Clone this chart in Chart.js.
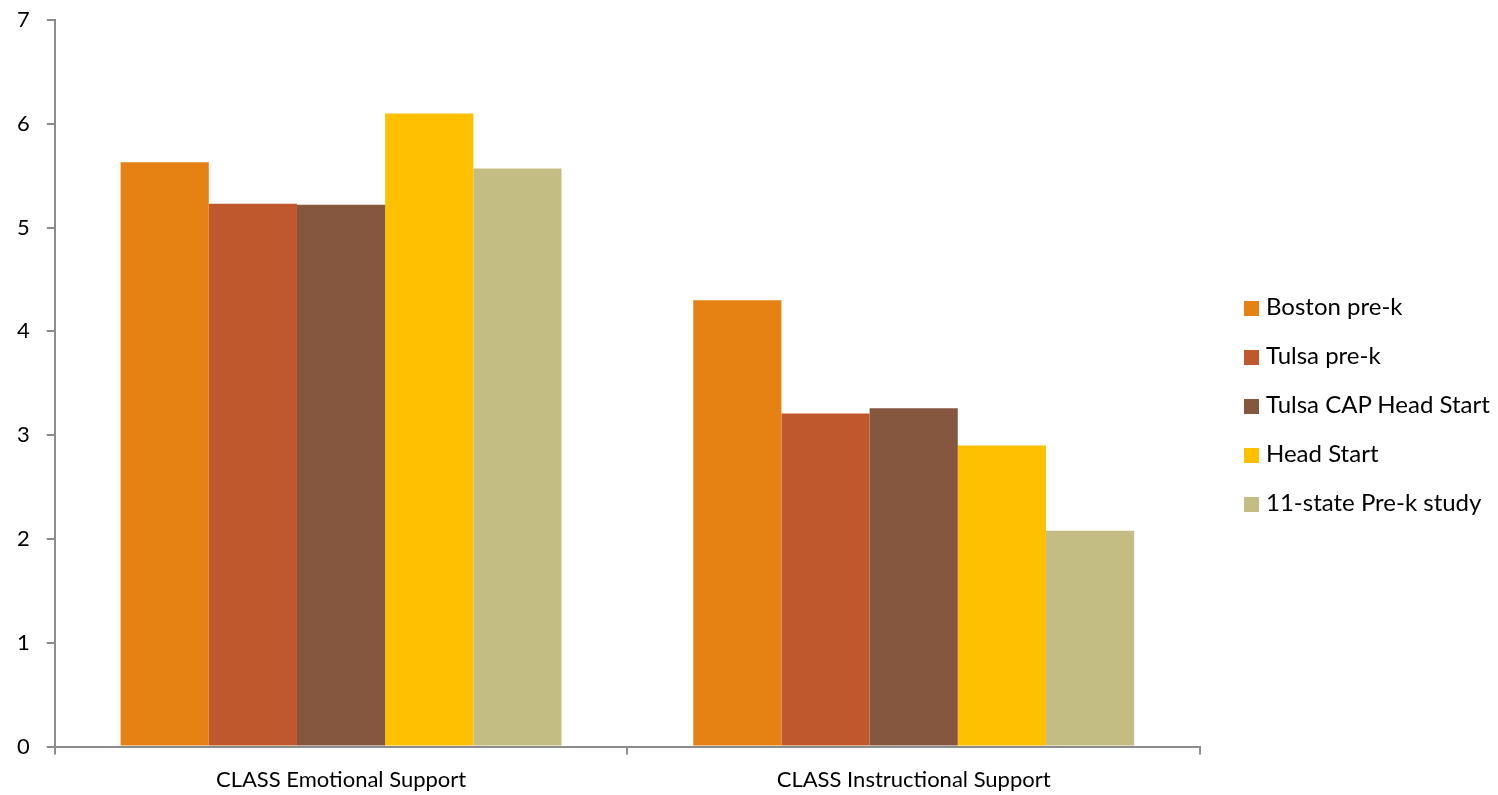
<!DOCTYPE html>
<html>
<head>
<meta charset="utf-8">
<script src="https://cdn.jsdelivr.net/npm/chart.js@4"></script>
<style>
  html, body { margin: 0; padding: 0; background: #fff; }
  #wrap { position: relative; width: 1498px; height: 795px; }
  #legend { position: absolute; left: 1244px; top: 281px; margin: 0; padding: 0; list-style: none;
            font-family: Lato, 'Open Sans', sans-serif; font-size: 24px; color: #000; }
  #legend li { height: 49px; line-height: 49px; white-space: nowrap; }
  #legend span { display: inline-block; width: 15px; height: 15px; margin-right: 7px; vertical-align: -1px; }
</style>
</head>
<body>
<div id="wrap"><canvas id="chart"></canvas><ul id="legend"></ul></div>
<script>
const categories = ['CLASS Emotional Support', 'CLASS Instructional Support'];
const seriesNames = ['Boston pre-k', 'Tulsa pre-k', 'Tulsa CAP Head Start', 'Head Start', '11-state Pre-k study'];
const bostonPreK = [5.63, 4.30];
const tulsaPreK = [5.23, 3.21];
const tulsaCapHeadStart = [5.22, 3.26];
const headStart = [6.10, 2.90];
const elevenState = [5.57, 2.08];
const yTicks = [0, 1, 2, 3, 4, 5, 6, 7];

const colors = ['#E68113', '#BF582C', '#86573F', '#FEC000', '#C4BD83'];
const values = [bostonPreK, tulsaPreK, tulsaCapHeadStart, headStart, elevenState];

const font = "Lato, 'Open Sans', sans-serif";
const axisColor = '#8c8c8c';

const chart = new Chart(document.getElementById('chart'), {
  type: 'bar',
  data: {
    labels: categories,
    datasets: seriesNames.map((name, i) => ({
      label: name,
      data: values[i],
      backgroundColor: colors[i],
      borderWidth: 0,
      barPercentage: 1,
      categoryPercentage: 0.77
    }))
  },
  options: {
    responsive: true,
    maintainAspectRatio: false,
    animation: false,
    layout: { padding: { top: 20, right: 298, left: 0, bottom: -10 } },
    plugins: {
      tooltip: { enabled: false },
      legend: { display: false }
    },
    scales: {
      x: {
        border: { color: axisColor, width: 2 },
        grid: { offset: true, drawOnChartArea: false, tickLength: 8, color: axisColor, lineWidth: 2 },
        ticks: { color: '#000', font: { family: font, size: 22 }, padding: 12 }
      },
      y: {
        min: 0, max: 7,
        afterBuildTicks: axis => { axis.ticks = yTicks.map(v => ({ value: v })); },
        afterFit: axis => { axis.paddingTop = 0; axis.paddingBottom = 0; },
        border: { color: axisColor, width: 2 },
        grid: { drawOnChartArea: false, tickLength: 8, color: axisColor, lineWidth: 2 },
        ticks: { color: '#000', font: { family: font, size: 22 }, padding: 17 }
      }
    }
  }
});

// legend built from the chart's own datasets
const legend = document.getElementById('legend');
chart.data.datasets.forEach(ds => {
  const li = document.createElement('li');
  const sw = document.createElement('span');
  sw.style.background = ds.backgroundColor;
  li.appendChild(sw);
  li.appendChild(document.createTextNode(ds.label));
  legend.appendChild(li);
});
</script>
</body>
</html>
